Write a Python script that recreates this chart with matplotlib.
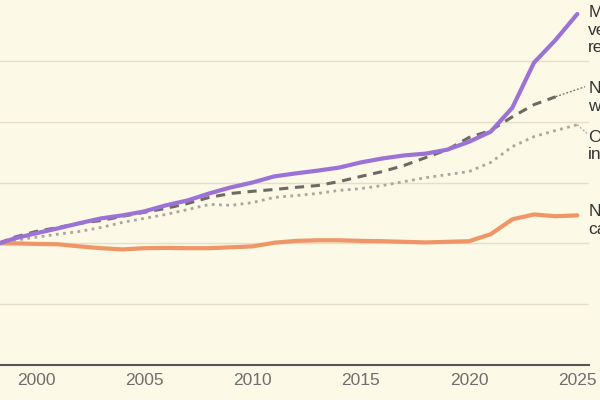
import matplotlib
matplotlib.use("Agg")
import matplotlib.pyplot as plt

# Index values (1998 ~ 100)
years = list(range(1998, 2026))

repairs = [99.3, 101.6, 103.3, 104.9, 106.6, 108.2, 109.2, 110.5, 112.5, 114.1,
           116.4, 118.4, 120.0, 122.0, 123.0, 123.9, 124.9, 126.6, 127.9, 128.9,
           129.5, 130.8, 133.4, 136.7, 144.6, 159.4, 166.9, 175.4]

wages_years = list(range(1998, 2025))
wages = [99.3, 102.0, 103.9, 105.2, 106.6, 107.5, 108.9, 110.2, 111.5, 113.1,
         115.1, 116.4, 117.1, 117.7, 118.4, 119.0, 120.3, 122.0, 123.6, 125.6,
         128.2, 130.8, 134.8, 137.1, 141.6, 145.6, 148.2]

inflation = [99.3, 101.0, 102.0, 103.0, 103.9, 105.2, 106.9, 108.2, 109.5, 111.1,
             112.8, 112.5, 113.4, 115.1, 115.7, 116.4, 117.4, 118.0, 119.0, 120.3,
             121.6, 122.6, 123.6, 126.6, 131.8, 135.1, 137.1, 139.0]

new_cars = [100.0, 100.0, 99.8, 99.7, 99.0, 98.4, 98.0, 98.4, 98.5, 98.4,
            98.4, 98.7, 99.0, 100.2, 100.8, 101.0, 101.0, 100.8, 100.7, 100.5,
            100.3, 100.5, 100.7, 103.0, 107.9, 109.5, 108.9, 109.2]

labels = ["Motor\nvehicle\nrepairs", "Nominal\nwages", "Overall\ninflation", "New\ncars"]

BG = "#fcf9e7"
PURPLE = "#9c72d6"
ORANGE = "#ef9566"
DARK = "#6d6a64"
LIGHT = "#a9a79f"
TEXT = "#333333"

plt.rcParams['font.family'] = ['Liberation Sans', 'DejaVu Sans']

fig = plt.figure(figsize=(6, 4), dpi=100, facecolor=BG)
ax = fig.add_axes([0.0, 0.0875, 589 / 600, 1 - 0.0875])
ax.set_facecolor(BG)

ax.plot(years, inflation, color=LIGHT, lw=2, linestyle=(0, (1, 1.6)), zorder=3)
ax.plot(wages_years, wages, color=DARK, lw=2.2, linestyle=(0, (3, 2.2)), zorder=4)
ax.plot(years, new_cars, color=ORANGE, lw=3, solid_capstyle='round', zorder=5)
ax.plot(years, repairs, color=PURPLE, lw=3, solid_capstyle='round', zorder=6)

ax.set_xlim(1998.337, 2025.54)
ax.set_ylim(60, 180)
ax.set_yticks([80, 100, 120, 140, 160])
ax.set_xticks(range(2000, 2026, 5))
ax.tick_params(axis='x', length=0, pad=6, labelsize=12.5, labelcolor="#6e6e6e")
ax.tick_params(axis='y', length=0, labelleft=False)
ax.grid(axis='y', color="#e3dfca", lw=1)
ax.set_axisbelow(True)
for side in ['top', 'right', 'left']:
    ax.spines[side].set_visible(False)
ax.spines['bottom'].set_color("#555555")
ax.spines['bottom'].set_linewidth(1.5)

# end labels (run off the right edge like the original)
label_x = 2025.5
ax.text(label_x, 178.2, labels[0], fontsize=12.5, color=TEXT, va='top', ha='left', clip_on=False)
ax.text(label_x, 153.3, labels[1], fontsize=12.5, color=TEXT, va='top', ha='left', clip_on=False)
ax.text(label_x, 137.3, labels[2], fontsize=12.5, color=TEXT, va='top', ha='left', clip_on=False)
ax.text(label_x, 112.8, labels[3], fontsize=12.5, color=TEXT, va='top', ha='left', clip_on=False)

# leader lines to labels
ax.plot([wages_years[-1], 2025.36], [wages[-1], 151.5], color=DARK, lw=0.9, ls=(0, (1.5, 1.5)), clip_on=False)
ax.plot([years[-1], 2025.45], [inflation[-1], 136.1], color=LIGHT, lw=0.9, ls=(0, (1.5, 1.5)), clip_on=False)

fig.savefig("out.png", dpi=100, facecolor=BG)
